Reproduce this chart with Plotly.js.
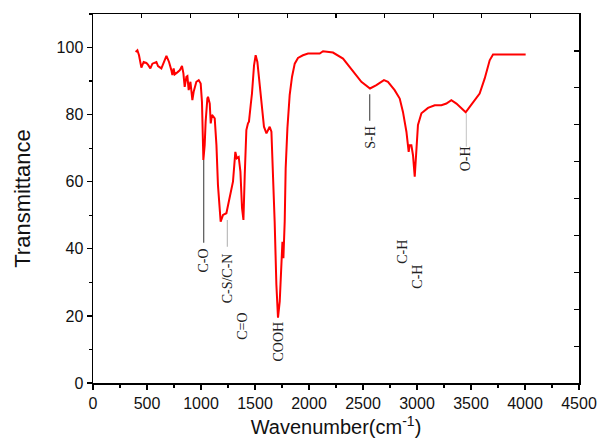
<!DOCTYPE html>
<html>
<head>
<meta charset="utf-8">
<script src="https://cdn.plot.ly/plotly-3.0.1.min.js"></script>
<style>html,body{margin:0;padding:0;background:#fff;}#chart{width:607px;height:442px;}</style>
</head>
<body>
<div id="chart"></div>
<script>
// FTIR spectrum
const wavenumber = [395,411,426,448,469,494,509,531,550,587,602,633,680,704,726,735,747,756,781,803,824,837,849,865,874,886,902,920,932,957,979,997,1009,1018,1022,1034,1043,1059,1065,1081,1090,1102,1115,1127,1143,1157,1182,1204,1235,1266,1296,1318,1331,1349,1365,1380,1393,1405,1420,1435,1444,1460,1472,1491,1506,1522,1543,1565,1583,1606,1620,1636,1652,1667,1682,1698,1713,1729,1744,1754,1763,1775,1784,1800,1821,1843,1868,1898,1944,1991,2053,2099,2130,2222,2315,2377,2423,2470,2485,2565,2578,2624,2694,2731,2793,2840,2870,2902,2923,2932,2948,2963,2979,2994,3009,3041,3102,3164,3226,3272,3318,3365,3411,3451,3488,3534,3580,3627,3673,3704,3781,3874,4006];
const transmittance = [98.7,99.2,97.7,94.0,95.7,95.4,94.9,93.8,95.2,95.7,94.5,93.8,97.5,95.7,93.2,91.8,93.8,92.0,92.6,93.2,94.5,92.3,88.3,91.3,91.5,87.3,89.8,84.3,86.8,89.8,90.3,89.3,83.8,69.4,66.5,70.9,77.9,84.8,85.3,83.3,77.4,79.9,79.3,78.9,70.9,59.0,48.1,50.1,50.6,56.0,60.0,68.9,67.0,67.4,63.0,52.1,48.6,62.0,75.4,77.4,77.9,82.8,86.3,94.7,97.7,95.7,89.3,81.8,76.4,74.4,75.4,76.4,74.9,62.0,48.1,29.3,19.5,24.3,36.2,42.1,37.2,48.1,64.0,75.9,85.8,91.3,95.2,96.9,97.7,98.2,98.2,98.2,98.9,98.5,96.7,94.2,92.0,90.3,89.8,87.8,88.0,88.8,90.3,89.8,87.3,84.8,80.8,74.9,68.9,70.9,70.9,67.9,61.5,68.9,76.9,80.4,82.0,82.8,82.8,83.3,84.3,83.3,81.8,80.7,82.3,84.3,86.3,90.8,96.2,97.9,97.9,97.7,97.9];

// Band assignment labels
const labelText = ["C-O","C-S/C-N","C=O","COOH","S-H","C-H","C-H","O-H"];
const labelWn   = [1025,1244,1381,1720,2562,2870,3009,3457];
const labelY    = [36.4,31.3,16.8,12.3,73.3,39.1,31.7,66.8];
// Leader lines
const leaderWn     = [1025,1244,2562,3457];
const leaderTop    = [66.5,48.6,86.1,80.4];
const leaderBottom = [41.8,40.6,78.2,70.4];
const leaderColor  = ["#555555","#bbbbbb","#555555","#cccccc"];

const traces = [
  {x: wavenumber, y: transmittance, type: 'scatter', mode: 'lines',
   line: {color: '#ff0000', width: 2}, showlegend: false, hoverinfo: 'skip'},
  {x: [null], y: [null], xaxis: 'x2', yaxis: 'y2', type: 'scatter', mode: 'lines', showlegend: false, hoverinfo: 'skip'}
];

const annotations = labelText.map((t, i) => ({
  x: labelWn[i], y: labelY[i], xref: 'x', yref: 'y', text: t, textangle: -90,
  showarrow: false, xanchor: 'center', yanchor: 'middle',
  font: {family: 'Liberation Serif, Times New Roman, serif', size: 14, color: '#222'}
}));

const shapes = leaderWn.map((w, i) => ({
  type: 'line', xref: 'x', yref: 'y', x0: w, x1: w, y0: leaderBottom[i], y1: leaderTop[i],
  line: {color: leaderColor[i], width: 1.2}
}));

const tickFont = {family: 'Liberation Sans, Arial, sans-serif', size: 16, color: '#111'};

const layout = {
  width: 607, height: 442,
  margin: {l: 93, r: 28, t: 14, b: 59},
  paper_bgcolor: '#fff', plot_bgcolor: '#fff',
  xaxis: {
    range: [0, 4500], dtick: 500, tick0: 0, ticks: 'outside', ticklen: 5, tickwidth: 1.2, tickcolor: '#000',
    minor: {dtick: 250, ticks: 'outside', ticklen: 3, tickcolor: '#000', showgrid: false},
    showline: true, linecolor: '#000', linewidth: 1.5, mirror: true,
    showgrid: false, zeroline: false, tickfont: tickFont,
    title: {text: 'Wavenumber(cm<sup>-1</sup>)', font: {family: 'Liberation Sans, Arial, sans-serif', size: 20, color: '#111'}, standoff: 9}
  },
  yaxis: {
    range: [0, 110], dtick: 20, tick0: 0, ticks: 'outside', ticklen: 5, tickwidth: 1.2, tickcolor: '#000',
    minor: {dtick: 10, ticks: 'outside', ticklen: 3, tickcolor: '#000', showgrid: false},
    showline: true, linecolor: '#000', linewidth: 1.5, mirror: true,
    showgrid: false, zeroline: false, tickfont: tickFont,
    title: {text: 'Transmittance', font: {family: 'Liberation Sans, Arial, sans-serif', size: 22, color: '#111'}, standoff: 20}
  },
  xaxis2: {
    overlaying: 'x', side: 'top', range: [0, 10], dtick: 1, tick0: 0, ticks: 'inside', ticklen: 4, tickwidth: 1.2, tickcolor: '#000',
    showticklabels: false, showgrid: false, zeroline: false, showline: false
  },
  yaxis2: {
    overlaying: 'y', side: 'right', range: [0, 10], dtick: 1, tick0: 0, ticks: 'inside', ticklen: 5, tickwidth: 1.2, tickcolor: '#000',
    showticklabels: false, showgrid: false, zeroline: false, showline: false
  },
  annotations: annotations,
  shapes: shapes
};

Plotly.newPlot('chart', traces, layout, {staticPlot: true, displayModeBar: false});
</script>
</body>
</html>
